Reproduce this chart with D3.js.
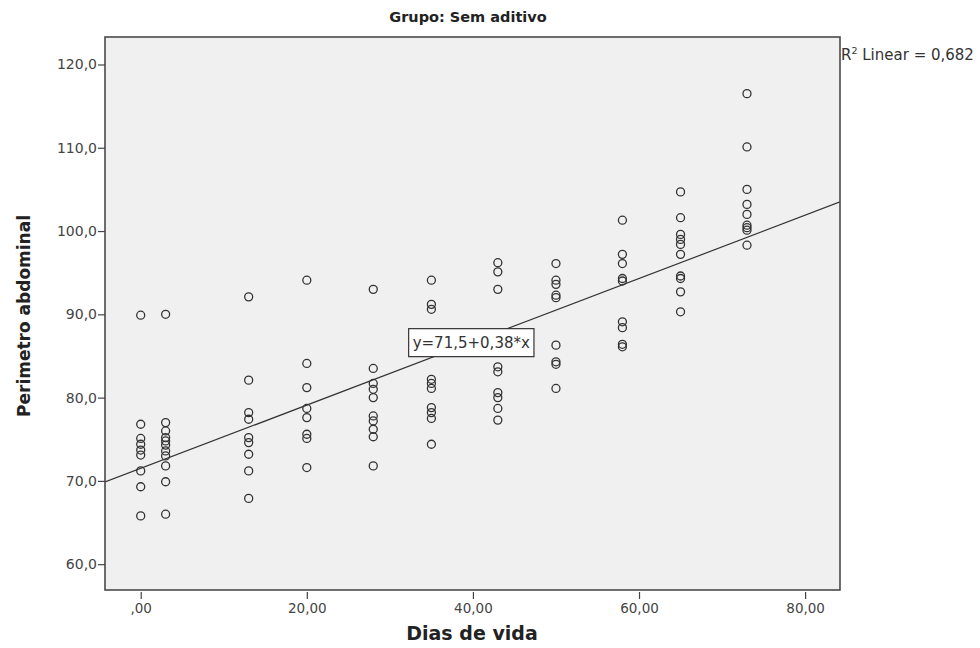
<!DOCTYPE html>
<html>
<head>
<meta charset="utf-8">
<script src="https://cdn.jsdelivr.net/npm/d3@7"></script>
<style>
  html, body { margin: 0; padding: 0; background: #ffffff; }
  svg { display: block; }
</style>
</head>
<body>
<svg id="chart" width="980" height="648"></svg>
<script>
// ---- data ----
const chartTitle = "Grupo: Sem aditivo";
const xLabel = "Dias de vida";
const yLabel = "Perimetro abdominal";
const r2Label = "Linear = 0,682";
const equationLabel = "y=71,5+0,38*x";
const fitIntercept = 71.5;
const fitSlope = 0.38;

const xTicks = [0, 20, 40, 60, 80];
const xTickLabels = [",00", "20,00", "40,00", "60,00", "80,00"];
const yTicks = [60, 70, 80, 90, 100, 110, 120];
const yTickLabels = ["60,0", "70,0", "80,0", "90,0", "100,0", "110,0", "120,0"];

const days = [0, 3, 13, 20, 28, 35, 43, 50, 58, 65, 73];
const day0  = [89.9, 76.8, 75.1, 74.4, 73.7, 73.1, 71.2, 69.3, 65.8];
const day3  = [90.0, 77.0, 76.0, 75.2, 74.8, 74.3, 73.6, 73.0, 71.8, 69.9, 66.0];
const day13 = [92.1, 82.1, 78.2, 77.4, 75.2, 74.6, 73.2, 71.2, 67.9];
const day20 = [94.1, 84.1, 81.2, 78.7, 77.6, 75.6, 75.1, 71.6];
const day28 = [93.0, 83.5, 81.7, 81.0, 80.0, 77.8, 77.2, 76.2, 75.3, 71.8];
const day35 = [94.1, 91.2, 90.6, 82.2, 81.7, 81.1, 78.8, 78.2, 77.5, 74.4];
const day43 = [96.2, 95.1, 93.0, 83.7, 83.1, 80.6, 80.0, 78.7, 77.3];
const day50 = [96.1, 94.1, 93.6, 92.3, 92.0, 86.3, 84.3, 84.0, 81.1];
const day58 = [101.3, 97.2, 96.1, 94.3, 94.0, 89.1, 88.4, 86.4, 86.1];
const day65 = [104.7, 101.6, 99.6, 99.0, 98.4, 97.2, 94.6, 94.3, 92.7, 90.3];
const day73 = [116.5, 110.1, 105.0, 103.2, 102.0, 100.7, 100.4, 100.1, 98.3];
const groups = [day0, day3, day13, day20, day28, day35, day43, day50, day58, day65, day73];

// ---- layout ----
const svg = d3.select("#chart");
const plot = { left: 105, top: 37, right: 840, bottom: 590 };
const SANS = "'DejaVu Sans', Verdana, sans-serif";

const x = d3.scaleLinear().domain([-4.3, 84.2]).range([plot.left, plot.right]);
const y = d3.scaleLinear().domain([56.9, 123.3]).range([plot.bottom, plot.top]);

// plot background
svg.append("rect")
  .attr("x", plot.left).attr("y", plot.top)
  .attr("width", plot.right - plot.left).attr("height", plot.bottom - plot.top)
  .attr("fill", "#f0f0f0");

svg.append("clipPath").attr("id", "clip")
  .append("rect")
  .attr("x", plot.left).attr("y", plot.top)
  .attr("width", plot.right - plot.left).attr("height", plot.bottom - plot.top);

// points
const points = [];
groups.forEach((vals, i) => vals.forEach(v => points.push({ d: days[i], v })));
svg.append("g").selectAll("circle").data(points).join("circle")
  .attr("cx", p => x(p.d)).attr("cy", p => y(p.v)).attr("r", 4)
  .attr("fill", "none").attr("stroke", "#333").attr("stroke-width", 1.3);

// fit line
const xd = x.domain();
svg.append("line")
  .attr("clip-path", "url(#clip)")
  .attr("x1", x(xd[0])).attr("y1", y(fitIntercept + fitSlope * xd[0]))
  .attr("x2", x(xd[1])).attr("y2", y(fitIntercept + fitSlope * xd[1]))
  .attr("stroke", "#333").attr("stroke-width", 1.2);

// frame
svg.append("rect")
  .attr("x", plot.left).attr("y", plot.top)
  .attr("width", plot.right - plot.left).attr("height", plot.bottom - plot.top)
  .attr("fill", "none").attr("stroke", "#4a4a4a").attr("stroke-width", 1.6);

// y axis
const yAxis = d3.axisLeft(y).tickValues(yTicks).tickSize(7).tickPadding(1)
  .tickFormat((d, i) => yTickLabels[i]);
const gy = svg.append("g").attr("transform", `translate(${plot.left},0)`).call(yAxis);
gy.select(".domain").remove();
gy.selectAll("line").attr("stroke", "#444").attr("stroke-width", 1.2);
gy.selectAll("text").attr("font-size", 14).attr("fill", "#444")
  .attr("font-family", SANS);

// x axis
const xAxis = d3.axisBottom(x).tickValues(xTicks).tickSize(7).tickPadding(4)
  .tickFormat((d, i) => xTickLabels[i]);
const gx = svg.append("g").attr("transform", `translate(0,${plot.bottom + 2})`).call(xAxis);
gx.select(".domain").remove();
gx.selectAll("line").attr("stroke", "#444").attr("stroke-width", 1.2);
gx.selectAll("text").attr("font-size", 13.5).attr("fill", "#444")
  .attr("font-family", SANS);

// equation box
const eqX = x(39.8), eqY = y(86.6);
const eqG = svg.append("g");
const eqText = eqG.append("text")
  .attr("x", eqX).attr("y", eqY).attr("text-anchor", "middle")
  .attr("dominant-baseline", "central")
  .attr("font-family", SANS)
  .attr("font-size", 15).attr("fill", "#333").text(equationLabel);
const bb = eqText.node().getBBox();
eqG.insert("rect", "text")
  .attr("x", bb.x - 4).attr("y", bb.y - 5)
  .attr("width", bb.width + 8).attr("height", bb.height + 10)
  .attr("fill", "#ffffff").attr("stroke", "#333").attr("stroke-width", 1.2);

// title
svg.append("text").attr("x", 468).attr("y", 22)
  .attr("text-anchor", "middle").attr("font-size", 14.5).attr("font-weight", "bold")
  .attr("font-family", SANS).attr("fill", "#222").text(chartTitle);

// R2 label
const r2 = svg.append("text").attr("x", plot.right + 1).attr("y", 60)
  .attr("font-size", 15).attr("fill", "#333").attr("font-family", SANS);
r2.append("tspan").text("R");
r2.append("tspan").attr("dy", -6).attr("font-size", 9.5).text("2");
r2.append("tspan").attr("dy", 6).text(" " + r2Label);

// axis titles
svg.append("text").attr("x", 472).attr("y", 640)
  .attr("text-anchor", "middle").attr("font-size", 19).attr("font-weight", "bold")
  .attr("fill", "#222").attr("font-family", SANS).text(xLabel);

svg.append("text")
  .attr("transform", `translate(30,316) rotate(-90)`)
  .attr("text-anchor", "middle").attr("font-size", 17).attr("font-weight", "bold")
  .attr("font-family", SANS).attr("fill", "#222").text(yLabel);
</script>
</body>
</html>
